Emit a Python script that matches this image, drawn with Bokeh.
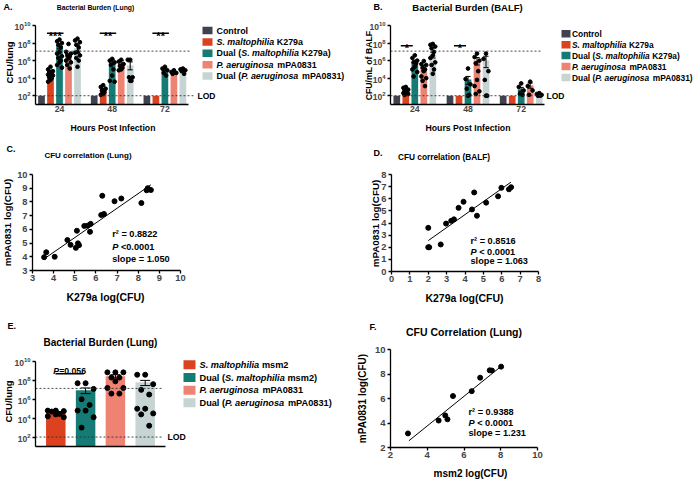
import math
from bokeh.plotting import figure
from bokeh.models import Range1d, FixedTicker, LinearAxis, LogAxis, LogScale
from bokeh.core.properties import value
from bokeh.embed import file_html
from bokeh.resources import INLINE

FONT = "Liberation Sans"

# ===================== DATA =====================
hours = [24, 48, 72]
burden_groups = ["Control", "S. maltophilia K279a", "Dual (S. maltophilia K279a)",
                 "P. aeruginosa mPA0831", "Dual (P. aeruginosa mPA0831)"]
burden_colors = ["#40434f", "#dc4220", "#167b75", "#ee8373", "#c7d4d4"]

# Panel A: log10 CFU/lung  (bar = mean, hi/lo = SEM ends), per group x hour
A_mean = [[2.0, 2.0, 2.0], [4.66, 2.6, 2.0], [7.72, 5.9, 5.05], [6.47, 5.8, 4.65], [7.45, 5.45, 4.9]]
A_hi = [[2.0, 2.0, 2.0], [4.9, 2.8, 2.0], [7.95, 6.15, 5.15], [6.75, 6.0, 4.75], [7.8, 5.85, 4.95]]
A_lo = [[2.0, 2.0, 2.0], [4.45, 2.35, 2.0], [7.35, 5.55, 4.9], [6.1, 5.55, 4.5], [6.95, 4.95, 4.8]]
A_points = [
    [[], [], []],
    [[5.3, 5.0, 4.8, 4.7, 4.6, 4.5, 4.4, 4.3, 4.1, 4.0, 3.8, 3.6], [3.2, 3.0, 2.8, 2.6, 2.4, 2.2, 2.1], []],
    [[8.4, 8.2, 8.0, 7.8, 7.5, 7.0, 6.8, 6.5, 6.3, 6.0, 5.8, 5.5, 5.2], [6.2, 6.0, 5.8, 5.5, 5.0, 4.3, 3.7, 3.6], [5.3, 5.1, 4.9, 4.6, 4.3]],
    [[7.9, 7.0, 6.8, 6.6, 6.5, 6.3, 6.0, 5.8, 5.5, 5.1], [6.1, 5.9, 5.6, 5.4, 5.2, 5.0, 4.9], [4.9, 4.7, 4.6, 4.5]],
    [[8.5, 8.3, 8.1, 7.8, 7.5, 7.0, 6.9, 6.6, 6.3, 6.0, 5.3], [6.1, 6.1, 4.1, 4.1, 3.7, 3.7], [5.1, 5.0, 4.9, 4.8, 4.5]],
]
A_stars = ["***", "**", "**"]

# Panel B: log10 CFU/mL of BALF
B_mean = [[2.0, 2.0, 2.0], [2.6, 2.0, 2.0], [5.8, 3.85, 2.75], [5.2, 6.0, 3.2], [6.7, 6.0, 2.1]]
B_hi = [[2.0, 2.0, 2.0], [2.8, 2.0, 2.0], [6.05, 4.2, 2.95], [5.45, 6.35, 3.45], [6.95, 6.5, 2.15]]
B_lo = [[2.0, 2.0, 2.0], [2.4, 2.0, 2.0], [5.4, 3.3, 2.5], [4.85, 5.5, 2.85], [6.3, 5.2, 2.05]]
B_points = [
    [[], [], []],
    [[3.0, 2.9, 2.7, 2.6, 2.5, 2.4, 2.3, 2.2, 2.1], [], []],
    [[6.6, 6.3, 6.0, 5.8, 5.7, 5.3, 5.0, 4.7, 4.2], [5.1, 3.9, 3.3, 2.8, 2.1, 2.0], [3.4, 3.0, 2.6, 2.2, 2.1]],
    [[5.95, 5.6, 5.5, 5.2, 5.0, 4.8, 4.2, 4.0, 3.7, 3.1], [6.8, 6.4, 6.0, 5.7, 4.8, 3.8, 3.1, 2.5, 2.2], [3.6, 3.1, 2.6, 2.1]],
    [[7.9, 7.8, 7.6, 7.4, 7.0, 6.6, 6.3, 5.8, 5.5, 5.0, 4.5], [6.8, 6.2, 4.8, 3.8, 2.0, 2.0], [2.3, 2.2, 2.1, 2.0, 2.0]],
]
B_stars = ["*", "*", ""]

LOD = 1e2
upper_line_log10 = 7.08
burden_ticks = [1e2, 1e4, 1e6, 1e8, 1e10]

# Panel C: CFU correlation (lung)
C_x = [3.55, 3.65, 4.05, 4.65, 4.8, 5.05, 5.1, 5.15, 5.2, 5.45, 5.6, 5.75, 5.72, 6.25, 6.3, 6.38, 6.88, 7.2, 8.15, 8.4, 8.45, 8.6]
C_y = [3.97, 4.33, 4.0, 5.22, 4.87, 4.65, 5.9, 4.98, 4.85, 6.25, 6.27, 6.4, 5.82, 7.05, 8.45, 7.12, 8.05, 8.25, 7.92, 8.85, 9.0, 8.87]
C_fit_x = [3.55, 8.6]
C_fit_y = [3.85, 9.25]
C_stats = ["0.8822", "<0.0001", "1.050"]

# Panel D: CFU correlation (BALF)
D_x = [2.0, 2.0, 2.05, 2.68, 2.97, 3.25, 3.4, 3.65, 3.92, 4.38, 4.5, 4.65, 5.15, 5.8, 5.98, 6.39, 6.51]
D_y = [3.6, 2.0, 2.0, 2.23, 3.95, 4.18, 4.3, 5.25, 5.75, 5.12, 6.52, 4.6, 5.68, 6.2, 6.9, 6.78, 6.95]
D_fit_x = [2.0, 6.5]
D_fit_y = [2.55, 7.37]
D_stats = ["0.8516", "< 0.0001", "1.063"]

# Panel E: lung burden with msm2 (log10 CFU/lung)
E_groups = ["S. maltophilia msm2", "Dual (S. maltophilia msm2)", "P. aeruginosa mPA0831", "Dual (P. aeruginosa mPA0831)"]
E_colors = ["#dc4220", "#167b75", "#ee8373", "#c7d4d4"]
E_mean = [4.6, 6.95, 8.45, 7.8]
E_hi = [4.7, 7.2, 8.6, 8.0]
E_lo = [4.5, 6.6, 8.25, 7.45]
E_points = [
    [4.8, 4.8, 4.75, 4.7, 4.45, 4.4, 4.2, 4.1],
    [7.7, 7.7, 7.1, 6.0, 5.4, 4.8, 4.8, 4.1, 3.0],
    [8.85, 8.85, 8.85, 8.3, 8.3, 7.9, 7.2, 7.2, 6.6, 6.6],
    [8.6, 8.6, 7.6, 7.0, 6.5, 5.0, 5.0, 4.5, 4.4, 3.2],
]
E_pvalue = "0.056"
E_upper_log10 = 7.15

# Panel F: CFU correlation (lung, msm2)
F_x = [2.95, 4.62, 4.98, 5.1, 5.4, 6.42, 6.88, 7.4, 7.52, 8.02]
F_y = [3.15, 4.2, 4.62, 4.3, 6.2, 6.6, 7.7, 8.3, 8.28, 8.6]
F_fit_x = [3.0, 8.0]
F_fit_y = [2.55, 8.6]
F_stats = ["0.9388", "< 0.0001", "1.231"]

# ===================== helpers =====================
CW, CH = 696, 479          # canvas size (page template has no margin)

W = {' ': 278, '(': 333, ')': 333, '.': 278, ',': 278, '<': 584, '=': 584, '*': 389, '/': 278, '\u00b2': 333,
     'A': 722, 'B': 722, 'C': 722, 'D': 722, 'E': 667, 'F': 611, 'H': 722, 'I': 278, 'K': 722, 'L': 611,
     'M': 833, 'O': 778, 'P': 667, 'S': 667, 'U': 722,
     'a': 556, 'b': 611, 'c': 556, 'd': 611, 'e': 556, 'f': 333, 'g': 611, 'h': 611, 'i': 278, 'l': 278,
     'm': 889, 'n': 611, 'o': 611, 'p': 611, 'r': 389, 's': 556, 't': 333, 'u': 611}


def tw(s, size):
    return sum(W.get(ch, 556) for ch in s) * size / 1000.0


SPECIES = ("S. maltophilia", "P. aeruginosa")


def segments(label):
    for sp in SPECIES:
        if sp in label:
            a, b = label.split(sp, 1)
            return [(a, "bold"), (sp, "bold italic"), (b, "bold")]
    return [(label, "bold")]


fig = figure(width=CW, height=CH, x_range=Range1d(0, CW), y_range=Range1d(CH, 0),
             x_axis_type=None, y_axis_type=None, toolbar_location=None,
             output_backend="svg", min_border=0)
fig.outline_line_color = None
fig.extra_x_ranges = {}
fig.extra_y_ranges = {}
fig.extra_y_scales = {}


def put(x, y, s, size, style="bold", align="left", baseline="middle", angle=0.0, xo=0.0, yo=0.0,
        xn="default", yn="default"):
    fig.text(x=[x], y=[y], text=[s], text_font=value(FONT), text_font_size=f"{size}px",
             text_font_style=style, text_align=align, text_baseline=baseline, angle=angle,
             x_offset=xo, y_offset=yo, text_color="black", x_range_name=xn, y_range_name=yn)


def rich(x, y, segs, size, align="left", baseline="middle", yo=0.0, xn="default", yn="default"):
    total = sum(tw(t, size) for t, _ in segs)
    off = -total / 2.0 if align == "center" else 0.0
    for t, st in segs:
        core = t.strip(" ")
        lead = len(t) - len(t.lstrip(" "))
        trail = (len(t) - len(t.rstrip(" "))) if core else 0
        off += tw(" " * lead, size)
        if core:
            put(x, y, core, size, st, "left", baseline, xo=off, yo=yo, xn=xn, yn=yn)
            off += tw(core, size)
        off += tw(" " * trail, size)


class Panel:
    """A panel: data <-> pixel mapping expressed as extra ranges spanning the whole canvas."""
    def __init__(self, name, L, B, xp0, xv0, xp1, xv1, yp0, yv0, yp1, yv1, ylog):
        self.name, self.L, self.B, self.ylog = name, L, B, ylog
        self.xp0, self.xv0 = xp0, xv0
        self.xs = (xv1 - xv0) / (xp1 - xp0)
        self.yp0 = yp0
        e0 = math.log10(yv0) if ylog else yv0
        e1 = math.log10(yv1) if ylog else yv1
        self.ye0 = e0
        self.ys = (e1 - e0) / (yp1 - yp0)
        self.xn, self.yn = name + "x", name + "y"
        fig.extra_x_ranges[self.xn] = Range1d(self.xval(0), self.xval(CW))
        fig.extra_y_ranges[self.yn] = Range1d(self.yval(CH), self.yval(0))
        if ylog:
            fig.extra_y_scales[self.yn] = LogScale()

    def xval(self, px):
        return self.xv0 + (px - self.xp0) * self.xs

    def yval(self, py):
        e = self.ye0 + (py - self.yp0) * self.ys
        return 10 ** e if self.ylog else e


def style_axis(ax, tick_size, tick_standoff):
    ax.axis_line_width = 1.3
    ax.major_tick_line_width = 1.3
    ax.major_tick_in = 0
    ax.major_tick_out = 3
    ax.minor_tick_line_color = None
    ax.major_label_text_font = FONT
    ax.major_label_text_font_style = "bold"
    ax.major_label_text_font_size = f"{tick_size}px"
    ax.major_label_standoff = tick_standoff


def add_axes(P, xticks, xb, yticks, yb, xsize, ysize, xtick_out=3):
    yax = (LogAxis if P.ylog else LinearAxis)(y_range_name=P.yn, fixed_location=P.L, bounds=yb,
                                              ticker=FixedTicker(ticks=yticks, minor_ticks=[]))
    style_axis(yax, ysize, 2)
    fig.add_layout(yax, "left")
    xax = LinearAxis(x_range_name=P.xn, fixed_location=P.B, bounds=xb,
                     ticker=FixedTicker(ticks=xticks, minor_ticks=[]))
    style_axis(xax, xsize, 1)
    xax.major_tick_out = xtick_out
    fig.add_layout(xax, "below")


def legend(labels, cols, sq_x, sq_w, sq_h, txt_x, rows_y, size):
    for lab, c, ry in zip(labels, cols, rows_y):
        fig.rect(x=[sq_x], y=[ry], width=sq_w, height=sq_h, fill_color=c, line_color=None)
        rich(txt_x, ry, segments(lab), size)


def dashed(P, y, x_end):
    fig.segment(x0=[P.xval(P.L)], x1=[P.xval(x_end)], y0=[y], y1=[y], line_dash="2 2",
                line_color="#333333", line_width=0.9, x_range_name=P.xn, y_range_name=P.yn)


def burden_panel(P, k, means, his, los, pts, stars, star_y, star_px, upper_end, lod_end, lod_x):
    sp = 9.0 / k
    bw = 6.7 / k
    cap = 2.6 / k
    jit = [0.0, -2.4, 2.4, -1.2, 1.2]
    kw = dict(x_range_name=P.xn, y_range_name=P.yn)
    for s, col in enumerate(burden_colors):
        xs = [h + (s - 2) * sp for h in hours]
        fig.vbar(x=xs, top=[10 ** m for m in means[s]], bottom=10, width=bw, fill_color=col,
                 line_color=None, **kw)
    for s in range(5):
        for j, h in enumerate(hours):
            x = h + (s - 2) * sp
            hi, lo = his[s][j], los[s][j]
            if hi > lo:
                fig.segment(x0=[x], x1=[x], y0=[10 ** lo], y1=[10 ** hi], line_color="black", line_width=1, **kw)
                fig.segment(x0=[x - cap, x - cap], x1=[x + cap, x + cap], y0=[10 ** hi, 10 ** lo],
                            y1=[10 ** hi, 10 ** lo], line_color="black", line_width=1, **kw)
    for s in range(5):
        for j, h in enumerate(hours):
            vals = pts[s][j]
            if not vals:
                continue
            x = h + (s - 2) * sp
            fig.scatter(x=[x + jit[i % 5] / k for i in range(len(vals))], y=[10 ** v for v in vals],
                        size=3.7, color="black", marker="circle", **kw)
    dashed(P, 10 ** upper_line_log10, upper_end)
    dashed(P, LOD, lod_end)
    put(P.xval(lod_x), LOD, "LOD", 8.5, xn=P.xn, yn=P.yn)
    for h, st in zip(hours, stars):
        if not st:
            continue
        x0 = h - sp + star_px[0] / k
        x1 = h + star_px[1] / k
        y = P.yval(star_y)
        fig.segment(x0=[x0], x1=[x1], y0=[y], y1=[y], line_color="black", line_width=1.5, **kw)
        put((x0 + x1) / 2, y, st, 11, "bold", "center", "alphabetic", yo=2.5, xn=P.xn, yn=P.yn)


def corr_panel(P, xs, ys, fx, fy, stats, sx, sy, size):
    kw = dict(x_range_name=P.xn, y_range_name=P.yn)
    fig.line(x=fx, y=fy, line_color="black", line_width=1, **kw)
    fig.scatter(x=xs, y=ys, size=5, color="black", marker="circle", **kw)
    put(sx, sy[0], "r\u00b2 = " + stats[0], size)
    put(sx, sy[1], "P", size, "bold italic")
    put(sx, sy[1], stats[1], size, xo=tw("P ", size))
    put(sx, sy[2], "slope = " + stats[2], size)


# ===================== Panel A =====================
kA, cA = 52.7 / 24, 59.0
PA = Panel("A", 35, 104, cA, 24, cA + 24 * kA, 48, 25, 1e10, 104, 1e1, True)
burden_panel(PA, kA, A_mean, A_hi, A_lo, A_points, A_stars, 32.8, (-3.5, 4.0), 190, 194, 197)
legend(burden_groups, burden_colors, 207, 10, 7.5, 216, [30, 41.4, 52.8, 64.2, 75.6], 8.9)
add_axes(PA, hours, (PA.xval(35), PA.xval(188)), burden_ticks, (1e1, 1e10), 8.7, 8.5, xtick_out=0)
put(3, 6.5, "A.", 9)
put(95, 7, "Bacterial Burden (Lung)", 6.8, align="center")
put(112.5, 127, "Hours Post Infection", 8.7, align="center")
put(8.5, 62, "CFU/lung", 9.5, align="center", angle=math.pi / 2)

# ===================== Panel B =====================
kB, cB = 53.2 / 24, 414.3
PB = Panel("B", 390, 104, cB, 24, cB + 24 * kB, 48, 25, 1e10, 104, 1e1, True)
burden_panel(PB, kB, B_mean, B_hi, B_lo, B_points, B_stars, 45.3, (-5.0, -2.0), 541, 543, 546)
legend(burden_groups, burden_colors, 565.5, 9, 7.5, 571.5, [33.3, 44.2, 55.1, 66.0, 77.0], 8.4)
add_axes(PB, hours, (PB.xval(390), PB.xval(544)), burden_ticks, (1e1, 1e10), 8.7, 8.5, xtick_out=0)
put(373, 6.5, "B.", 9)
put(467, 7, "Bacterial Burden (BALF)", 9.5, align="center")
put(467.5, 127, "Hours Post Infection", 8.7, align="center")
put(368, 65, "CFU/mL of BALF", 8.7, align="center", angle=math.pi / 2)

# ===================== Panel C =====================
PC = Panel("C", 32, 270, 32, 3, 180, 10, 174, 10, 270, 3, False)
corr_panel(PC, C_x, C_y, C_fit_x, C_fit_y, C_stats, 111.7, [233.3, 246.7, 258.3], 9.2)
add_axes(PC, list(range(3, 11)), (3, 10), list(range(3, 11)), (3, 10), 9.3, 9.3)
put(6, 148, "C.", 9)
put(87.5, 155, "CFU correlation (Lung)", 8.0, align="center")
put(105, 296.7, "K279a log(CFU)", 10.5, align="center")
put(6.7, 222, "mPA0831 log(CFU)", 9.8, align="center", angle=math.pi / 2)

# ===================== Panel D =====================
PD = Panel("D", 391, 271, 391, 0, 538, 8, 174, 8, 271, 0, False)
corr_panel(PD, D_x, D_y, D_fit_x, D_fit_y, D_stats, 470, [240.7, 251.7, 260.7], 9.2)
add_axes(PD, list(range(0, 9)), (0, 8), list(range(0, 9)), (0, 8), 9.3, 9.3)
put(373, 152, "D.", 9)
put(443.5, 156, "CFU correlation (BALF)", 8.3, align="center")
put(464, 297, "K279a log(CFU)", 10.5, align="center")
put(375, 223, "mPA0831 log(CFU)", 9.8, align="center", angle=math.pi / 2)

# ===================== Panel E =====================
kE, cE = 29.8, 55.3
PE = Panel("E", 35, 446, cE, 0, cE + kE, 1, 361, 1e10, 446, 1e1, True)
kwE = dict(x_range_name=PE.xn, y_range_name=PE.yn)
xE = list(range(len(E_groups)))
fig.vbar(x=xE, top=[10 ** m for m in E_mean], bottom=10, width=19.5 / kE, fill_color=E_colors,
         line_color=None, **kwE)
capE = 5.0 / kE
for i in xE:
    fig.segment(x0=[i], x1=[i], y0=[10 ** E_lo[i]], y1=[10 ** E_hi[i]], line_color="black", line_width=1, **kwE)
    fig.segment(x0=[i - capE, i - capE], x1=[i + capE, i + capE], y0=[10 ** E_hi[i], 10 ** E_lo[i]],
                y1=[10 ** E_hi[i], 10 ** E_lo[i]], line_color="black", line_width=1, **kwE)
jitE = [0.0, -8.0, 8.0, -4.0, 4.0]
for i in xE:
    vals = E_points[i]
    fig.scatter(x=[i + jitE[j % 5] / kE for j in range(len(vals))], y=[10 ** v for v in vals],
                size=5, color="black", marker="circle", **kwE)
dashed(PE, 10 ** E_upper_log10, 163)
dashed(PE, LOD, 163)
put(PE.xval(167), LOD, "LOD", 8.7, xn=PE.xn, yn=PE.yn)
yP = PE.yval(373.3)
fig.segment(x0=[PE.xval(55)], x1=[PE.xval(83.3)], y0=[yP], y1=[yP], line_color="black", line_width=1.5, **kwE)
rich(69.2, 373.3, [("P", "bold italic"), ("=" + E_pvalue, "bold")], 8.7, align="center",
     baseline="alphabetic", yo=-2.5)
legend(E_groups, E_colors, 189, 12, 9, 199, [364.3, 377.0, 389.7, 402.3], 9.2)
add_axes(PE, [], (PE.xval(35), PE.xval(165)), burden_ticks, (1e1, 1e10), 8, 8.5, xtick_out=0)
put(7, 325.5, "E.", 9)
put(100, 342.3, "Bacterial Burden (Lung)", 10, align="center")
put(7.5, 401, "CFU/lung", 9.5, align="center", angle=math.pi / 2)

# ===================== Panel F =====================
PF = Panel("F", 390, 447, 390, 2, 537, 10, 349, 10, 447, 2, False)
corr_panel(PF, F_x, F_y, F_fit_x, F_fit_y, F_stats, 468, [411.7, 422.3, 432.7], 9.2)
add_axes(PF, [2, 4, 6, 8, 10], (2, 10), [2, 4, 6, 8, 10], (2, 10), 9.5, 9.5)
put(369, 326, "F.", 9)
put(463.5, 331, "CFU Correlation (Lung)", 10.5, align="center")
put(470, 473, "msm2 log(CFU)", 10, align="center")
put(361.7, 398, "mPA0831 log(CFU)", 10, align="center", angle=math.pi / 2)

with open("out.html", "w", encoding="utf-8") as f:
    f.write(file_html(fig, INLINE))
